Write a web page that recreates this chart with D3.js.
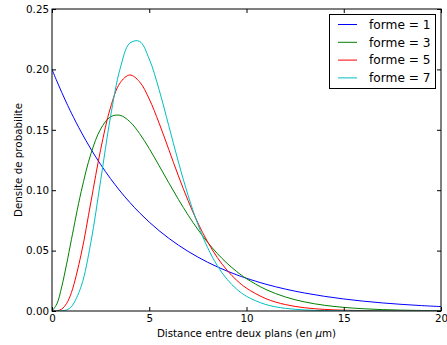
<!DOCTYPE html>
<html><head><meta charset="utf-8">
<script src="https://cdn.jsdelivr.net/npm/d3@7"></script>
<style>body{margin:0;background:#fff}svg{display:block}text{font-family:"DejaVu Sans",sans-serif}</style>
</head><body>
<svg id="c" width="447" height="345"></svg>
<script>
const xs = [0,0.25,0.5,0.75,1,1.5,2,2.5,3,3.5,4,4.5,5,5.5,6,6.5,7,7.5,8,8.5,9,9.5,10,11,12,13,14,15,16,17,18,19,20];
const forme1 = [0.2,0.19025,0.18097,0.17214,0.16375,0.14816,0.13406,0.12131,0.10976,0.09932,0.08987,0.08131,0.07358,0.06657,0.06024,0.05451,0.04932,0.04463,0.04038,0.03654,0.03306,0.02991,0.02707,0.02216,0.01814,0.01485,0.01216,0.00996,0.00815,0.00667,0.00546,0.00447,0.00366];
const forme3 = [0,0.00581,0.02000,0.03874,0.05927,0.09880,0.13012,0.15061,0.16067,0.16201,0.15676,0.14698,0.13443,0.12050,0.10624,0.09236,0.07936,0.06749,0.05688,0.04757,0.03951,0.03261,0.02677,0.01778,0.01161,0.00748,0.00476,0.00300,0.00187,0.00116,0.00071,0.00044,0.00027];
const forme5 = [0,0.00013,0.00158,0.00623,0.01533,0.04707,0.09022,0.13360,0.16803,0.18881,0.19537,0.18981,0.17547,0.15582,0.13385,0.11182,0.09123,0.07292,0.05725,0.04426,0.03374,0.02540,0.01892,0.01019,0.00531,0.00269,0.00133,0.00065,0.00031,0.00014,0.00007,0.00003,0.00001];
const forme7 = [0,0.0000025,0.00011,0.00091,0.00361,0.02042,0.05698,0.10794,0.16005,0.20041,0.22176,0.22324,0.20860,0.18352,0.15360,0.12330,0.09551,0.07175,0.05248,0.03749,0.02624,0.01802,0.01217,0.00532,0.00221,0.00088,0.00034,0.00013,0.00005,0.00002,0.000006,0.000002,0.0000007];
const seriesNames = ["forme = 1","forme = 3","forme = 5","forme = 7"];
const seriesColors = ["#0000ff","#008000","#ff0000","#00bfbf"];
const xTicks = [0,5,10,15,20];
const yTicks = [0,0.05,0.10,0.15,0.20,0.25];

const svg = d3.select("#c");
const L=52, R=441, T=9, B=311;
const x = d3.scaleLinear().domain([0,20]).range([L,R]);
const y = d3.scaleLinear().domain([0,0.25]).range([B,T]);
const fs = 10.3, lfs = 12.2;

const g = svg.append("g");
const allSeries = [forme1,forme3,forme5,forme7];
const line = d3.line().x((d,i)=>x(xs[i])).y(d=>y(d)).curve(d3.curveCatmullRom.alpha(0.5));
g.append("clipPath").attr("id","clip").append("rect").attr("x",L).attr("y",T).attr("width",R-L).attr("height",B-T);
allSeries.forEach((s,i)=>{
  g.append("path").attr("d",line(s)).attr("fill","none").attr("stroke",seriesColors[i]).attr("stroke-width",1).attr("clip-path","url(#clip)");
});

// frame
svg.append("rect").attr("x",L).attr("y",T).attr("width",R-L).attr("height",B-T).attr("fill","none").attr("stroke","#000").attr("stroke-width",1);

// axes with inward ticks
const fmtY = d3.format(".2f");
const axB = svg.append("g").attr("transform",`translate(0,${B})`).call(d3.axisBottom(x).tickValues(xTicks).tickSize(-4).tickPadding(4).tickFormat(d3.format("d")));
const axT = svg.append("g").attr("transform",`translate(0,${T})`).call(d3.axisTop(x).tickValues(xTicks).tickSize(-4).tickFormat(""));
const axL = svg.append("g").attr("transform",`translate(${L},0)`).call(d3.axisLeft(y).tickValues(yTicks).tickSize(-4).tickPadding(3).tickFormat(fmtY));
const axR = svg.append("g").attr("transform",`translate(${R},0)`).call(d3.axisRight(y).tickValues(yTicks).tickSize(-4).tickFormat(""));
[axB,axT,axL,axR].forEach(a=>{
  a.select(".domain").remove();
  a.selectAll("text").attr("font-size",fs).attr("fill","#000").style("font-family","DejaVu Sans");
  a.selectAll("line").attr("stroke","#000");
});

// labels
const xl = svg.append("text").attr("x",(L+R)/2).attr("y",337).attr("text-anchor","middle").attr("font-size",fs).attr("fill","#000");
xl.append("tspan").text("Distance entre deux plans (en ");
xl.append("tspan").attr("font-style","italic").text("μ");
xl.append("tspan").text("m)");
svg.append("text").attr("transform",`translate(22,${(T+B)/2}) rotate(-90)`).attr("text-anchor","middle").attr("font-size",fs).attr("fill","#000").text("Densite de probabilite");

// legend
const lg = svg.append("g");
lg.append("rect").attr("x",329.5).attr("y",14.5).attr("width",106).attr("height",74).attr("fill","#fff").attr("stroke","#000").attr("stroke-width",1);
seriesNames.forEach((n,i)=>{
  const yy = 24.5 + i*17.8;
  lg.append("line").attr("x1",338).attr("x2",357).attr("y1",yy).attr("y2",yy).attr("stroke",seriesColors[i]).attr("stroke-width",1);
  lg.append("text").attr("x",369).attr("y",yy).attr("dy","0.36em").attr("font-size",lfs).attr("fill","#000").text(n);
});
</script>
</body></html>
